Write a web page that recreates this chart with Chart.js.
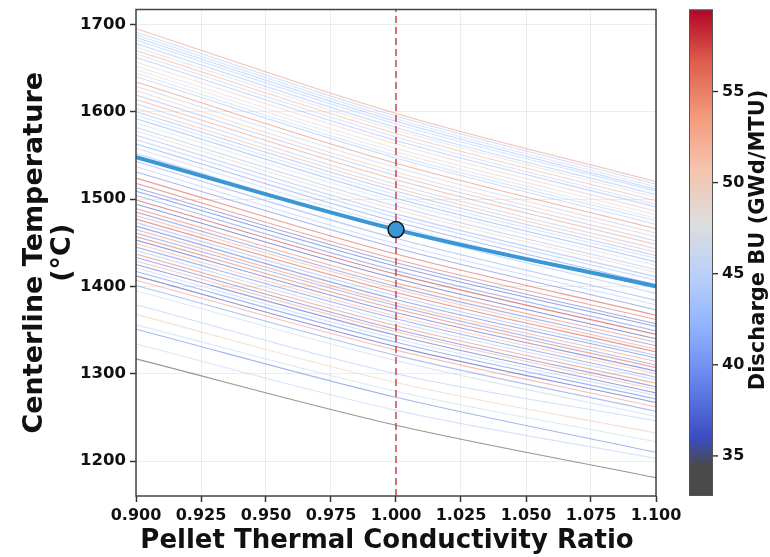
<!DOCTYPE html>
<html><head><meta charset="utf-8">
<script src="https://cdn.jsdelivr.net/npm/chart.js@4/dist/chart.umd.min.js"></script>
<style>html,body{margin:0;padding:0;background:#fff;}#wrap{width:770px;height:557px;}</style>
</head><body><div id="wrap"><canvas id="c" width="770" height="557"></canvas></div>
<script>
// ---- data ----
const conductivityRatio = [0.9, 1.0, 1.1];
const xTicks = [0.900, 0.925, 0.950, 0.975, 1.000, 1.025, 1.050, 1.075, 1.100];
const yTicks = [1200, 1300, 1400, 1500, 1600, 1700];
const cbTicks = [35, 40, 45, 50, 55];
const buRange = [32.8, 59.5];
const tempRange = [1160, 1717];

const dischargeBU = [54,44,46,43,45,44,47,52,45,43,50,47,48,46,44,55,45,51,43,54,44,52,42,45,41,47,43,50,42,44,40,46,43,41,44,39,57,56,38,37,40,58,36,55,39,53,57,42,38,54,40,56,37,52,39,44,55,38,53,37,45,39,36,54,40,46,44,50,46,39,45,33];
const tempAt090 = [1695,1691,1688,1685,1682,1678,1674,1670,1666,1662,1657,1652,1648,1644,1640,1634,1629,1624,1619,1614,1609,1604,1600,1596,1592,1587,1582,1578,1573,1568,1563,1558,1552,1543,1537,1531,1524,1518,1513,1509,1504,1499,1494,1489,1485,1481,1477,1473,1469,1465,1461,1457,1453,1449,1445,1441,1437,1433,1429,1425,1421,1417,1412,1407,1401,1395,1379,1368,1356,1351,1334,1317];
const tempAt100 = [1598,1595,1592,1589,1586,1582,1579,1575,1571,1567,1563,1558,1554,1550,1547,1541,1536,1531,1527,1522,1517,1513,1509,1505,1501,1497,1492,1488,1483,1479,1474,1469,1464,1455,1449,1444,1437,1431,1427,1423,1418,1414,1409,1404,1400,1397,1393,1389,1385,1381,1378,1374,1370,1366,1363,1359,1355,1351,1348,1344,1340,1336,1331,1327,1321,1315,1300,1290,1280,1273,1258,1241];
const tempAt110 = [1520,1517,1514,1511,1509,1505,1502,1498,1494,1491,1486,1482,1478,1475,1471,1466,1461,1457,1452,1448,1443,1439,1435,1432,1428,1424,1419,1416,1411,1407,1402,1398,1392,1384,1379,1373,1367,1362,1357,1354,1349,1345,1340,1336,1332,1328,1325,1321,1318,1314,1310,1307,1303,1300,1296,1293,1289,1285,1282,1278,1275,1271,1267,1262,1257,1251,1246,1232,1222,1210,1203,1181];
const nominalTemps = [1548, 1465, 1400];
const nominalPoint = {x: 1.0, y: 1465};

// ---- colormap (grey -> coolwarm) ----
const cmapStops = [
  [32.8,[74,74,74]],[34.4,[74,74,74]],
  [36.0,[59,76,192]],[38.94,[98,130,234]],[41.875,[141,176,254]],[44.81,[184,208,249]],
  [47.75,[221,221,221]],[50.69,[245,196,173]],[53.625,[244,154,123]],[56.56,[222,96,77]],[59.5,[180,4,38]]
];
function cmap(v){
  if (v <= cmapStops[0][0]) return cmapStops[0][1];
  for (let i=1;i<cmapStops.length;i++){
    const [v1,c1]=cmapStops[i], [v0,c0]=cmapStops[i-1];
    if (v<=v1){const t=(v-v0)/(v1-v0);return c0.map((c,k)=>Math.round(c+(c1[k]-c)*t));}
  }
  return cmapStops[cmapStops.length-1][1];
}
const rgba=(c,a)=>`rgba(${c[0]},${c[1]},${c[2]},${a})`;

Chart.defaults.font.family = "'DejaVu Sans', sans-serif";
Chart.defaults.font.weight = 'bold';
Chart.defaults.color = '#111';

const datasets = [];
datasets.push({data:[nominalPoint], showLine:false, pointRadius:8, pointBackgroundColor:'#3a97d6', pointBorderColor:'#111', pointBorderWidth:1.5});
datasets.push({data:conductivityRatio.map((x,j)=>({x,y:nominalTemps[j]})), borderColor:'#3a97d6', borderWidth:4, pointRadius:0, cubicInterpolationMode:'monotone'});
datasets.push({data:[{x:nominalPoint.x,y:tempRange[0]},{x:nominalPoint.x,y:tempRange[1]}], borderColor:'rgba(200,70,85,0.75)', borderWidth:2, borderDash:[7,4], pointRadius:0});
for (let i=0;i<dischargeBU.length;i++){
  const ys=[tempAt090[i],tempAt100[i],tempAt110[i]];
  datasets.push({data:conductivityRatio.map((x,j)=>({x,y:ys[j]})), borderColor:rgba(cmap(dischargeBU[i]),0.58), borderWidth:1.1, pointRadius:0, cubicInterpolationMode:'monotone'});
}

const extras = {
  id:'extras',
  afterDraw(chart){
    const ctx=chart.ctx, a=chart.chartArea, cb=chart.scales.cb;
    ctx.save();
    // plot frame
    ctx.strokeStyle='#444'; ctx.lineWidth=1.5;
    ctx.strokeRect(a.left,a.top,a.right-a.left,a.bottom-a.top);
    // x-axis title
    ctx.fillStyle='#111'; ctx.font="bold 26px 'DejaVu Sans'"; ctx.textAlign='center'; ctx.textBaseline='middle';
    ctx.fillText('Pellet Thermal Conductivity Ratio',387,541);
    // colorbar
    const x0=689,w=24;
    const yTop=cb.getPixelForValue(buRange[1]), yBot=cb.getPixelForValue(buRange[0]);
    const g=ctx.createLinearGradient(0,yBot,0,yTop);
    for(let k=0;k<=100;k++){const v=buRange[0]+(buRange[1]-buRange[0])*k/100;g.addColorStop(k/100,rgba(cmap(v),1));}
    ctx.fillStyle=g; ctx.fillRect(x0,yTop,w,yBot-yTop);
    ctx.strokeStyle='#555'; ctx.lineWidth=1; ctx.strokeRect(x0+0.5,yTop+0.5,w-1,yBot-yTop-1);
    ctx.strokeStyle='#222'; ctx.lineWidth=1.3;
    cbTicks.forEach(v=>{const y=cb.getPixelForValue(v);ctx.beginPath();ctx.moveTo(x0+w,y);ctx.lineTo(x0+w+5,y);ctx.stroke();});
    // colorbar title
    ctx.fillStyle='#111'; ctx.font="bold 21px 'DejaVu Sans'"; ctx.textAlign='center'; ctx.textBaseline='middle';
    ctx.translate(759,240); ctx.rotate(-Math.PI/2);
    ctx.fillText('Discharge BU (GWd/MTU)',0,0);
    ctx.restore();
  }
};

new Chart(document.getElementById('c'),{
  type:'line',
  data:{datasets},
  options:{
    responsive:false, animation:false, devicePixelRatio:1,
    layout:{padding:{top:6,left:0,right:0,bottom:0}},
    plugins:{legend:{display:false},tooltip:{enabled:false}},
    scales:{
      x:{type:'linear',min:conductivityRatio[0],max:conductivityRatio[2],
        afterBuildTicks:s=>{s.ticks=xTicks.map(v=>({value:v}));},
        afterFit:s=>{s.height=61;s.paddingLeft=0;s.paddingRight=0;},
        grid:{color:'rgba(0,0,0,0.07)',tickColor:'#333',tickLength:6,tickWidth:1.5},
        border:{display:false},
        ticks:{autoSkip:false,maxRotation:0,padding:4,font:{size:16,weight:'bold'},color:'#111',callback:v=>Number(v).toFixed(3)},
        title:{display:false}
      },
      y:{type:'linear',min:tempRange[0],max:tempRange[1],
        afterBuildTicks:s=>{s.ticks=yTicks.map(v=>({value:v}));},
        afterFit:s=>{s.width=136;s.paddingTop=0;s.paddingBottom=0;},
        grid:{color:'rgba(0,0,0,0.07)',tickColor:'#333',tickLength:6,tickWidth:1.5},
        border:{display:false},
        ticks:{padding:4,font:{size:16.5,weight:'bold'},color:'#111',callback:v=>String(v)},
        title:{display:true,text:['Centerline Temperature','(°C)'],font:{size:27,weight:'bold',lineHeight:1.04},color:'#111',padding:{top:21,bottom:0}}
      },
      cb:{type:'linear',position:'right',min:buRange[0],max:buRange[1],
        afterBuildTicks:s=>{s.ticks=cbTicks.map(v=>({value:v}));},
        afterFit:s=>{s.width=114;s.paddingTop=0;s.paddingBottom=0;},
        grid:{display:false,drawOnChartArea:false},
        border:{display:false},
        ticks:{padding:58,font:{size:16,weight:'bold'},color:'#111',callback:v=>String(v)}
      }
    }
  },
  plugins:[extras]
});
</script></body></html>
